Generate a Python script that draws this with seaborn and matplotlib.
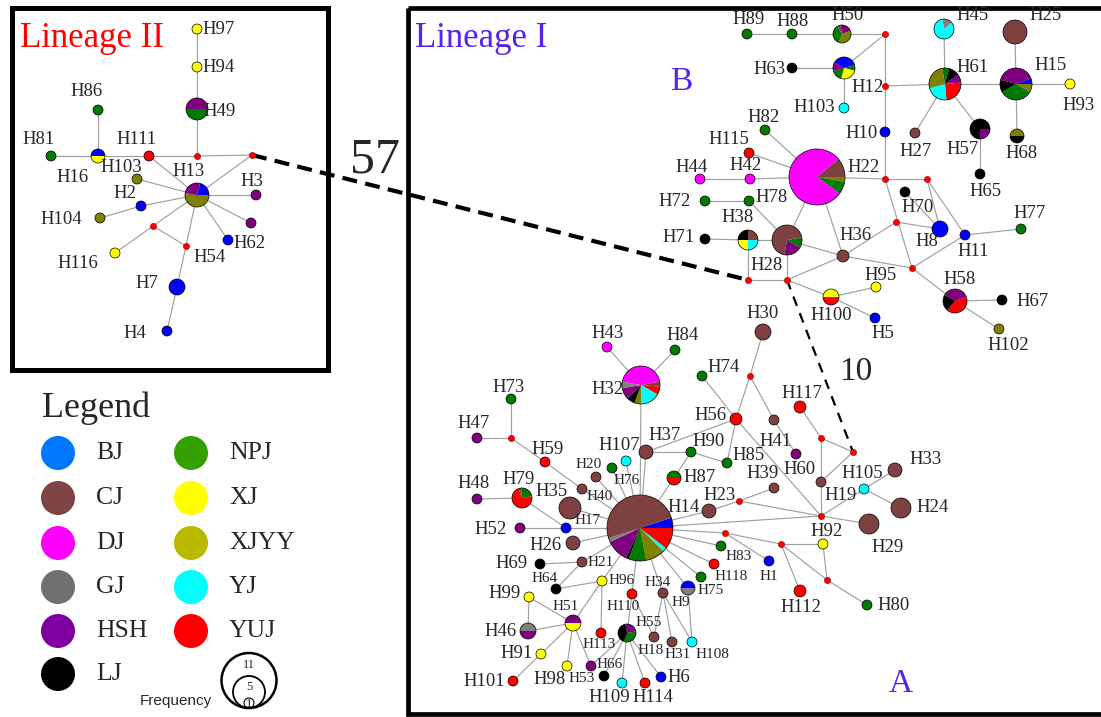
import matplotlib
matplotlib.use("Agg")
import matplotlib.pyplot as plt
import seaborn as sns
import pandas as pd
from matplotlib.patches import Wedge, Circle, Rectangle

# ---------------- data ----------------
populations = ["BJ", "CJ", "DJ", "GJ", "HSH", "LJ", "NPJ", "XJ", "XJYY", "YJ", "YUJ"]
node_colors = ["#0000FF", "#7F4040", "#FF00FF", "#808080", "#800080", "#000000",
               "#007A00", "#FFFF00", "#808000", "#00FFFF", "#FF0000"]
legend_colors = ["#0077FF", "#7F4444", "#FF00FF", "#707070", "#7F009F", "#000000",
                 "#33A000", "#FFFF00", "#BBB800", "#00FFFF", "#FF0000"]

# single-population haplotypes: id, x, y, radius(px), population
single_ids = ["H97", "H94", "H111", "H86", "H81", "H103b", "H2", "H104", "H3", "u1", "H62", "H116", "H7", "H4",
              "H89", "H88", "H63", "H103", "H10", "H25", "H93", "H27", "H65", "H70", "H8", "H11", "H77", "H36",
              "H67", "H102", "H95", "H5", "H71", "H78", "H72", "H42", "H44", "H115", "H82",
              "H30", "H74", "H56", "H41", "H60", "H117", "H19", "H105", "H33", "H24", "H29", "H37", "H90",
              "H85", "H107", "H76", "H20", "H40", "H59", "H73", "H47", "H48", "H35", "H23", "H39", "H17",
              "H52", "H26", "H69", "H21", "H64", "H96", "H99", "H91", "H101", "H98", "H53", "H66", "H109",
              "H114", "H6", "H113", "H110", "H34", "H75", "H118", "H83", "H18", "H31", "H108", "H1", "H92y",
              "H112", "H80", "H43", "H84"]
single_x = [197, 197, 149, 98, 51, 137, 141, 100, 256, 251, 228, 115, 177, 167,
            747, 792, 792, 844, 885, 1015, 1070, 915, 980, 905, 940, 965, 1021, 843,
            1002, 999, 876, 875, 705, 749, 705, 750, 700, 749, 765,
            763, 702, 736, 774, 796, 800, 821, 864, 895, 901, 869, 646, 691,
            727, 626, 612, 596, 582, 545, 511, 477, 477, 570, 709, 774, 566,
            520, 573, 540, 582, 556, 602, 529, 541, 513, 567, 591, 604, 622,
            645, 661, 601, 632, 663, 701, 714, 721, 654, 672, 692, 769, 823,
            800, 867, 607, 675]
single_y = [29, 67, 156, 110, 156, 179, 206, 218, 195, 223, 240, 253, 287, 331,
            34, 34, 68, 108, 132, 32, 84, 133, 174, 192, 229, 235, 229, 256,
            300, 329, 287, 318, 239, 201, 201, 179, 179, 153, 130,
            332, 376, 419, 420, 454, 407, 482, 489, 470, 508, 524, 452, 452,
            463, 461, 468, 477, 489, 462, 399, 438, 499, 508, 511, 488, 528,
            528, 543, 564, 562, 589, 581, 597, 654, 681, 666, 666, 676, 683,
            683, 677, 633, 594, 593, 577, 564, 546, 637, 642, 642, 561, 544,
            591, 605, 347, 350]
single_r = [5, 5, 5, 5, 5, 5, 5, 5, 5, 5, 5, 5, 8, 5,
            5, 5, 5, 5, 5, 12, 5, 5, 5, 5, 8, 5, 5, 6,
            5, 5, 5, 5, 5, 5, 5, 5, 5, 5, 5,
            8, 5, 6, 5, 5, 6, 5, 5, 7, 10, 10, 7, 5,
            5, 5, 5, 5, 5, 5, 5, 5, 5, 11, 7, 5, 5,
            5, 7, 5, 5, 5, 5, 5, 5, 5, 5, 5, 5, 5,
            5, 5, 5, 5, 5, 5, 5, 5, 5, 5, 5, 5, 5,
            6, 5, 5, 5]
single_pop = ["XJ", "XJ", "YUJ", "NPJ", "NPJ", "XJYY", "BJ", "XJYY", "HSH", "HSH", "BJ", "XJ", "BJ", "BJ",
              "NPJ", "NPJ", "LJ", "YJ", "BJ", "CJ", "XJ", "CJ", "LJ", "LJ", "BJ", "BJ", "NPJ", "CJ",
              "LJ", "XJYY", "XJ", "BJ", "LJ", "NPJ", "NPJ", "DJ", "DJ", "YUJ", "NPJ",
              "CJ", "NPJ", "YUJ", "CJ", "HSH", "YUJ", "CJ", "YJ", "CJ", "CJ", "CJ", "CJ", "NPJ",
              "NPJ", "YJ", "NPJ", "CJ", "CJ", "YUJ", "NPJ", "HSH", "HSH", "CJ", "CJ", "CJ", "BJ",
              "HSH", "CJ", "LJ", "CJ", "LJ", "XJ", "XJ", "XJ", "YUJ", "XJ", "HSH", "LJ", "YJ",
              "YUJ", "BJ", "YUJ", "YUJ", "CJ", "NPJ", "YUJ", "NPJ", "CJ", "CJ", "YJ", "BJ", "XJ",
              "YUJ", "NPJ", "DJ", "NPJ"]

# multi-population haplotypes (pie charts): slices in degrees, clockwise from start angle
pie_ids = ["H49", "H16", "H13", "H50", "H12", "H61", "H45", "H15", "H57", "H68", "H58", "H100",
           "H28", "H38", "H22", "H32", "H79", "H87", "H14", "H9", "H51", "H46", "H55"]
pie_x = [197, 98, 197, 842, 844, 945, 944, 1016, 980, 1017, 955, 831,
         787, 748, 817, 641, 522, 674, 640, 688, 573, 528, 627]
pie_y = [109, 156, 195, 34, 68, 84, 29, 84, 129, 136, 301, 297,
         240, 240, 177, 385, 498, 478, 528, 588, 623, 631, 633]
pie_r = [11, 7, 12, 9, 11, 16, 10, 16, 10, 7, 12, 8,
         15, 10, 28, 19, 10, 7, 33, 7, 8, 8, 9]
pie_start = [180, 180, 75, 100, 150, 100, 100, 165, 0, 180, 150, 180,
             10, 90, 40, 170, 110, 180, 18, 180, 180, 180, 100]
pie_parts = [
    [("HSH", 180), ("NPJ", 180)],
    [("BJ", 180), ("XJ", 180)],
    [("BJ", 75), ("XJYY", 190), ("HSH", 95)],
    [("HSH", 80), ("XJYY", 130), ("NPJ", 130), ("CJ", 20)],
    [("BJ", 135), ("NPJ", 30), ("XJ", 90), ("NPJ", 60), ("HSH", 45)],
    [("NPJ", 25), ("LJ", 40), ("HSH", 30), ("YUJ", 90), ("YJ", 80), ("XJYY", 95)],
    [("GJ", 60), ("YJ", 300)],
    [("HSH", 145), ("BJ", 20), ("XJYY", 30), ("NPJ", 120), ("LJ", 45)],
    [("HSH", 90), ("LJ", 270)],
    [("XJYY", 180), ("LJ", 180)],
    [("HSH", 130), ("YUJ", 150), ("LJ", 80)],
    [("XJ", 180), ("YUJ", 180)],
    [("NPJ", 40), ("HSH", 70), ("CJ", 250)],
    [("CJ", 90), ("YJ", 90), ("XJ", 90), ("LJ", 90)],
    [("CJ", 40), ("XJYY", 10), ("NPJ", 26), ("DJ", 284)],
    [("DJ", 160), ("CJ", 15), ("YUJ", 25), ("YJ", 60), ("XJYY", 20), ("LJ", 25), ("HSH", 35), ("GJ", 20)],
    [("CJ", 15), ("NPJ", 85), ("YUJ", 260)],
    [("NPJ", 180), ("YUJ", 180)],
    [("BJ", 18), ("YUJ", 38), ("YJ", 7), ("XJYY", 34), ("NPJ", 31), ("LJ", 5), ("HSH", 40), ("GJ", 7), ("CJ", 180)],
    [("BJ", 180), ("GJ", 180)],
    [("HSH", 180), ("XJ", 180)],
    [("GJ", 180), ("HSH", 180)],
    [("HSH", 90), ("NPJ", 120), ("LJ", 150)],
]

# median vectors
mv_ids = ["m%d" % i for i in range(1, 22)]
mv_x = [197, 252, 153, 186, 885, 885, 885, 927, 896, 912, 787, 748, 750, 821, 853, 821, 511, 739, 725, 781, 827]
mv_y = [156, 155, 226, 246, 34, 86, 179, 179, 222, 268, 280, 280, 376, 438, 452, 516, 438, 501, 533, 544, 580]

edges = [
    ("H97", "H94"), ("H94", "H49"), ("H49", "m1"), ("H81", "H16"), ("H16", "H86"), ("H16", "H111"),
    ("H111", "m1"), ("m1", "m2"), ("m2", "H13"), ("H111", "H13"), ("H13", "H103b"), ("H13", "H2"),
    ("H2", "H104"), ("H13", "H3"), ("H13", "u1"), ("H13", "H62"), ("H13", "m3"), ("m3", "H116"),
    ("m3", "m4"), ("H13", "m4"), ("m4", "H7"), ("H7", "H4"),
    ("H89", "H88"), ("H88", "H50"), ("H50", "m5"), ("H63", "H12"), ("H12", "H103"), ("H12", "m5"),
    ("m5", "m6"), ("m6", "H10"), ("H10", "m7"), ("m6", "H61"), ("H61", "H45"), ("H61", "H15"),
    ("H61", "H27"), ("H61", "H57"), ("H57", "H65"), ("H15", "H25"), ("H15", "H93"), ("H15", "H68"),
    ("m7", "H22"), ("m7", "m8"), ("m7", "m10"), ("m8", "H8"), ("m8", "H11"), ("H70", "H8"),
    ("H11", "H77"), ("H11", "m10"), ("m10", "H58"), ("H58", "H67"), ("H58", "H102"), ("m9", "H8"),
    ("m9", "H36"), ("H36", "m11"), ("H28", "H36"), ("H36", "m10"), ("H22", "H36"), ("m11", "H100"),
    ("H100", "H95"), ("H100", "H5"), ("m11", "H28"), ("m12", "m11"), ("m12", "H38"), ("H38", "H71"),
    ("H38", "H28"), ("H28", "H78"), ("H28", "H22"), ("H78", "H72"), ("H22", "H42"), ("H42", "H44"),
    ("H22", "H115"), ("H22", "H82"),
    ("H43", "H32"), ("H84", "H32"), ("H32", "H14"), ("H30", "m13"), ("m13", "H56"), ("m13", "H41"),
    ("H41", "H60"), ("H74", "H56"), ("H56", "H37"), ("H56", "H85"), ("H56", "m16"), ("H37", "H14"),
    ("H37", "H90"), ("H90", "H85"), ("H90", "H87"), ("H87", "H14"), ("H117", "m14"), ("m14", "m15"),
    ("m14", "H19"), ("H19", "m16"), ("m15", "H19"), ("m16", "H105"), ("H105", "H33"), ("H105", "H24"),
    ("m16", "H29"), ("m18", "H39"), ("m18", "m16"), ("m18", "H23"), ("H23", "H14"), ("H14", "m16"),
    ("H14", "m19"), ("m19", "H1"), ("m19", "m20"), ("m20", "H92y"), ("m20", "H112"), ("m20", "m21"),
    ("H92y", "m21"), ("m21", "H80"), ("H14", "H83"), ("H14", "H118"), ("H14", "H75"), ("H14", "H9"),
    ("H14", "H34"), ("H34", "H18"), ("H34", "H31"), ("H34", "H108"), ("H9", "H108"), ("H14", "H110"),
    ("H110", "H55"), ("H110", "H18"), ("H14", "H96"), ("H96", "H64"), ("H96", "H51"), ("H96", "H113"),
    ("H14", "H21"), ("H21", "H69"), ("H21", "H64"), ("H51", "H99"), ("H51", "H46"), ("H51", "H91"),
    ("H51", "H98"), ("H51", "H53"), ("H99", "H46"), ("H91", "H101"), ("H55", "H53"), ("H55", "H66"),
    ("H55", "H109"), ("H55", "H114"), ("H55", "H6"), ("H14", "H17"), ("H17", "H52"), ("H79", "H17"),
    ("H35", "H14"), ("H26", "H14"), ("H48", "H79"), ("H59", "H40"), ("H40", "H14"), ("m17", "H59"),
    ("H73", "m17"), ("H47", "m17"), ("H20", "H14"), ("H76", "H14"), ("H107", "H14"),
]
dashed_links = [("m2", "m12", "57"), ("m11", "m15", "10")]

# node labels
label_text = ["H97", "H94", "H49", "H86", "H81", "H111", "H16", "H103", "H13", "H3", "H2", "H104", "H62",
              "H54", "H116", "H7", "H4",
              "H89", "H88", "H50", "H45", "H25", "H63", "H61", "H15", "H93", "H12", "H103", "H82", "H10",
              "H27", "H57", "H68", "H22", "H65", "H70", "H77", "H78", "H36", "H8", "H11", "H28", "H58",
              "H95", "H67", "H100", "H5", "H102", "H30", "H115", "H44", "H42", "H72", "H38", "H71",
              "H43", "H84", "H74", "H117", "H73", "H32", "H56", "H47", "H37", "H90", "H41", "H107", "H59",
              "H85", "H20", "H60", "H39", "H76", "H87", "H79", "H48", "H35", "H40", "H23", "H14", "H105",
              "H33", "H19", "H24", "H92", "H29", "H80", "H17", "H52", "H26", "H69", "H21", "H64", "H96",
              "H99", "H34", "H75", "H83", "H118", "H1", "H112", "H110", "H9", "H51", "H55", "H46", "H113",
              "H18", "H31", "H108", "H91", "H66", "H6", "H98", "H53", "H101", "H109", "H114"]
label_x = [219, 219, 220, 87, 39, 137, 73, 121, 189, 252, 125, 61, 250,
           210, 78, 147, 135,
           749, 793, 848, 973, 1046, 770, 973, 1051, 1079, 868, 814, 764, 862,
           916, 963, 1022, 864, 986, 918, 1030, 772, 856, 927, 973, 767, 960,
           881, 1033, 831, 883, 1008, 763, 729, 692, 746, 675, 738, 679,
           608, 683, 724, 802, 509, 608, 711, 474, 665, 709, 776, 619, 548,
           749, 589, 800, 763, 627, 700, 519, 474, 552, 600, 720, 684, 862,
           926, 841, 933, 827, 888, 894, 588, 491, 546, 512, 601, 545, 622,
           505, 658, 711, 739, 731, 769, 801, 623, 681, 566, 649, 501, 599,
           651, 678, 712, 517, 610, 679, 550, 582, 484, 609, 653]
label_y = [29, 67, 111, 91, 139, 139, 178, 167, 172, 182, 193, 220, 243,
           257, 264, 283, 334,
           20, 21, 15, 16, 16, 69, 68, 65, 105, 88, 108, 117, 133,
           152, 149, 154, 167, 192, 208, 213, 197, 235, 242, 251, 265, 280,
           276, 302, 315, 333, 345, 313, 139, 167, 166, 202, 218, 238,
           333, 335, 368, 393, 387, 390, 415, 423, 435, 441, 442, 446, 450,
           455, 465, 470, 473, 480, 478, 479, 484, 492, 497, 496, 507, 473,
           460, 496, 507, 532, 547, 605, 520, 530, 545, 563, 563, 579, 580,
           593, 582, 590, 557, 577, 576, 607, 607, 603, 607, 623, 632, 644,
           650, 654, 654, 654, 664, 678, 680, 679, 681, 697, 697]
small_labels = {"H20", "H76", "H40", "H17", "H21", "H64", "H96", "H34", "H75", "H83", "H118", "H1",
                "H110", "H9", "H51", "H55", "H113", "H18", "H31", "H108", "H66", "H53"}

freq_levels = [11, 5, 1]

# ---------------- drawing ----------------
sns.set_theme(style="white")
plt.rcParams["font.family"] = ["Liberation Serif", "DejaVu Serif"]

W, H = 1101, 717
fig = plt.figure(figsize=(W / 100, H / 100), dpi=100)
ax = fig.add_axes([0, 0, 1, 1])
ax.set_xlim(0, W)
ax.set_ylim(H, 0)
ax.axis("off")

pos = {}
for i, n in enumerate(single_ids):
    pos[n] = (single_x[i], single_y[i])
for i, n in enumerate(pie_ids):
    pos[n] = (pie_x[i], pie_y[i])
for i, n in enumerate(mv_ids):
    pos[n] = (mv_x[i], mv_y[i])

palette = dict(zip(populations, node_colors))
px2pt = 72 / 100.0

# edges (grey lines) through seaborn
rows = []
for k, (a, b) in enumerate(edges):
    rows.append({"edge": k, "order": 0, "x": pos[a][0], "y": pos[a][1]})
    rows.append({"edge": k, "order": 1, "x": pos[b][0], "y": pos[b][1]})
edf = pd.DataFrame(rows)
sns.lineplot(data=edf, x="x", y="y", units="edge", estimator=None, sort=False,
             color="#a0a0a0", linewidth=0.85, legend=False, ax=ax, zorder=1)

# dashed long links
dash_styles = {"57": (3.0, (3.6, 2.0)), "10": (1.6, (4.5, 3.5))}
for a, b, lab in dashed_links:
    lw, dsh = dash_styles[lab]
    ax.plot([pos[a][0], pos[b][0]], [pos[a][1], pos[b][1]], color="black",
            linewidth=lw, linestyle=(0, dsh), zorder=2.5, solid_capstyle="butt")
ax.text(375, 160, "57", fontsize=36, ha="center", va="center", zorder=5)
ax.text(856, 372, "10", fontsize=24, ha="center", va="center", zorder=5)

# single nodes through seaborn scatterplot (area in pt^2)
sdf = pd.DataFrame({"x": single_x, "y": single_y, "pop": single_pop,
                    "area": [(2 * r * px2pt) ** 2 for r in single_r]})
amin, amax = sdf["area"].min(), sdf["area"].max()
sns.scatterplot(data=sdf, x="x", y="y", hue="pop", palette=palette, size="area",
                sizes=(amin, amax), size_norm=(amin, amax), edgecolor="black",
                linewidth=0.5, legend=False, ax=ax, zorder=3)

# median vectors
mdf = pd.DataFrame({"x": mv_x, "y": mv_y})
sns.scatterplot(data=mdf, x="x", y="y", color="#FF0000", s=(6.2 * px2pt) ** 2,
                edgecolor="#8B0000", linewidth=0.4, legend=False, ax=ax, zorder=3)

# pie nodes
for i, n in enumerate(pie_ids):
    cx, cy, r = pie_x[i], pie_y[i], pie_r[i]
    cur = pie_start[i]
    for popn, deg in pie_parts[i]:
        # y axis is inverted, so flip angles to keep visual orientation
        t1, t2 = cur - deg, cur
        ax.add_patch(Wedge((cx, cy), r, -t2, -t1, facecolor=palette[popn],
                           edgecolor="none", zorder=3))
        cur -= deg
    ax.add_patch(Circle((cx, cy), r, facecolor="none", edgecolor="black",
                        linewidth=0.5, zorder=3.1))

# labels
for t, x, y in zip(label_text, label_x, label_y):
    fs = 11 if t in small_labels else 13.5
    ax.text(x, y, t, fontsize=fs, ha="center", va="center", zorder=5)

# lineage boxes
ax.add_patch(Rectangle((11.5, 7.5), 316.5, 362, fill=False, edgecolor="black",
                       linewidth=3.6, zorder=2))
ax.add_patch(Rectangle((407.5, 8), 720, 706, fill=False, edgecolor="black",
                       linewidth=3.4, zorder=2))
ax.text(20, 47, "Lineage II", color="#FF0000", fontsize=25, ha="left", va="baseline")
ax.text(415, 47, "Lineage I", color="#5522EE", fontsize=25, ha="left", va="baseline")
ax.text(670, 90, "B", color="#5522EE", fontsize=24, ha="left", va="baseline")
ax.text(901, 692, "A", color="#5522EE", fontsize=24, ha="center", va="baseline")

# legend
ax.text(42, 417, "Legend", fontsize=26, ha="left", va="baseline")
leg_rows_y = [453, 498, 543, 587, 631, 674]
for i, popn in enumerate(populations):
    col, row = (0, i) if i < 6 else (1, i - 6)
    cx = 58 if col == 0 else 191
    cy = leg_rows_y[row]
    ax.scatter([cx], [cy], s=(34 * px2pt) ** 2, color=legend_colors[i],
               edgecolor="none", zorder=3)
    ax.text(cx + 38, cy, popn, fontsize=18.5, ha="left", va="center")

# frequency scale
freq_r = [27.5, 16, 5]
freq_lw = [1.8, 1.3, 0.8]
freq_label_y = [665, 687, 704]
for lvl, r, lw, ly in zip(freq_levels, freq_r, freq_lw, freq_label_y):
    ax.add_patch(Circle((249, 708 - r), r, fill=False, edgecolor="black", linewidth=lw, zorder=3))
    ax.text(249, ly, str(lvl), fontsize=9, ha="center", va="center", zorder=4)
ax.text(176, 701, "Frequency", fontsize=11, ha="center", va="center",
        family=["Liberation Sans", "DejaVu Sans"])

fig.savefig("out.png", dpi=100)
